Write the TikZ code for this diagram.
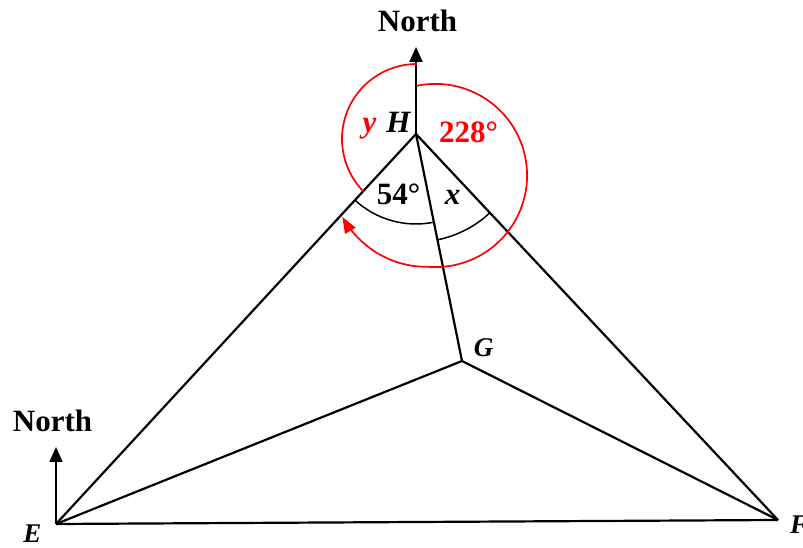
\documentclass[tikz,border=0pt]{standalone}
\usepackage{fontspec}
\setmainfont{Liberation Serif}
\usetikzlibrary{arrows.meta,calc}
\begin{document}
\begin{tikzpicture}[x=1pt,y=1pt,
  edge/.style={line width=2.2pt},
  northarrow/.style={line width=2.2pt,-{Triangle[width=13pt,length=15pt]}},
  redarc/.style={red,line width=1.7pt},
  angarc/.style={line width=1.5pt},
  lbl/.style={anchor=base,inner sep=0pt,font=\fontsize{31}{34}\selectfont\bfseries},
  ptlbl/.style={anchor=base,inner sep=0pt,font=\fontsize{31}{34}\selectfont\bfseries\itshape}]
\useasboundingbox (0,0) rectangle (803,548);
\coordinate (H) at (416,414);
\coordinate (E) at (56,24);
\coordinate (F) at (778,28);
\coordinate (G) at (462,187);
\coordinate (HN) at (416,501);
\coordinate (EN) at (56,101);
% main lines
\draw[edge] (H) -- (E);
\draw[edge] (H) -- (F);
\draw[edge] (H) -- (G);
\draw[edge] (E) -- (F);
\draw[edge] (E) -- (G);
\draw[edge] (G) -- (F);
\draw[northarrow] (H) -- (HN);
\draw[northarrow] (E) -- (EN);
% angle arcs
\draw[angarc] ($(H)+(227.3:90)$) arc[start angle=227.3,end angle=281.5,radius=90];
\draw[angarc] ($(H)+(281.5:108)$) arc[start angle=281.5,end angle=313.2,radius=108];
% red arcs
\coordinate (Y) at (417,409);
\draw[redarc] ($(Y)+(90:75)$) arc[start angle=90,end angle=225,radius=75];
\draw[redarc,-{Triangle[width=12pt,length=16pt]}] plot[domain=102:-156,samples=120,variable=\t,smooth]
  ({435.5+(91.6+0.17*max(0,-95-\t))*cos(\t)},{372.5+(91.6+0.17*max(0,-95-\t))*sin(\t)});
% labels
\node[lbl] (n1) at (417.5,516) {North};
\node[lbl] (n2) at (52.5,116) {North};
\node[ptlbl] (hl) at (398.5,415) {H};
\node[ptlbl,red] (yl) at (369.5,415) {y};
\node[lbl,red,anchor=base west] (a228) at (439,405) {228°};
\node[lbl] (a54) at (398.5,343) {54°};
\node[ptlbl] (xl) at (452.5,343) {x};
\node[ptlbl,font=\fontsize{27}{30}\selectfont\bfseries\itshape] (gl) at (483.5,191) {G};
\node[ptlbl,font=\fontsize{27}{30}\selectfont\bfseries\itshape] (el) at (32.5,5) {E};
\node[ptlbl,anchor=base west,font=\fontsize{27}{30}\selectfont\bfseries\itshape] (fl) at (790,14) {F};
\end{tikzpicture}
\end{document}
